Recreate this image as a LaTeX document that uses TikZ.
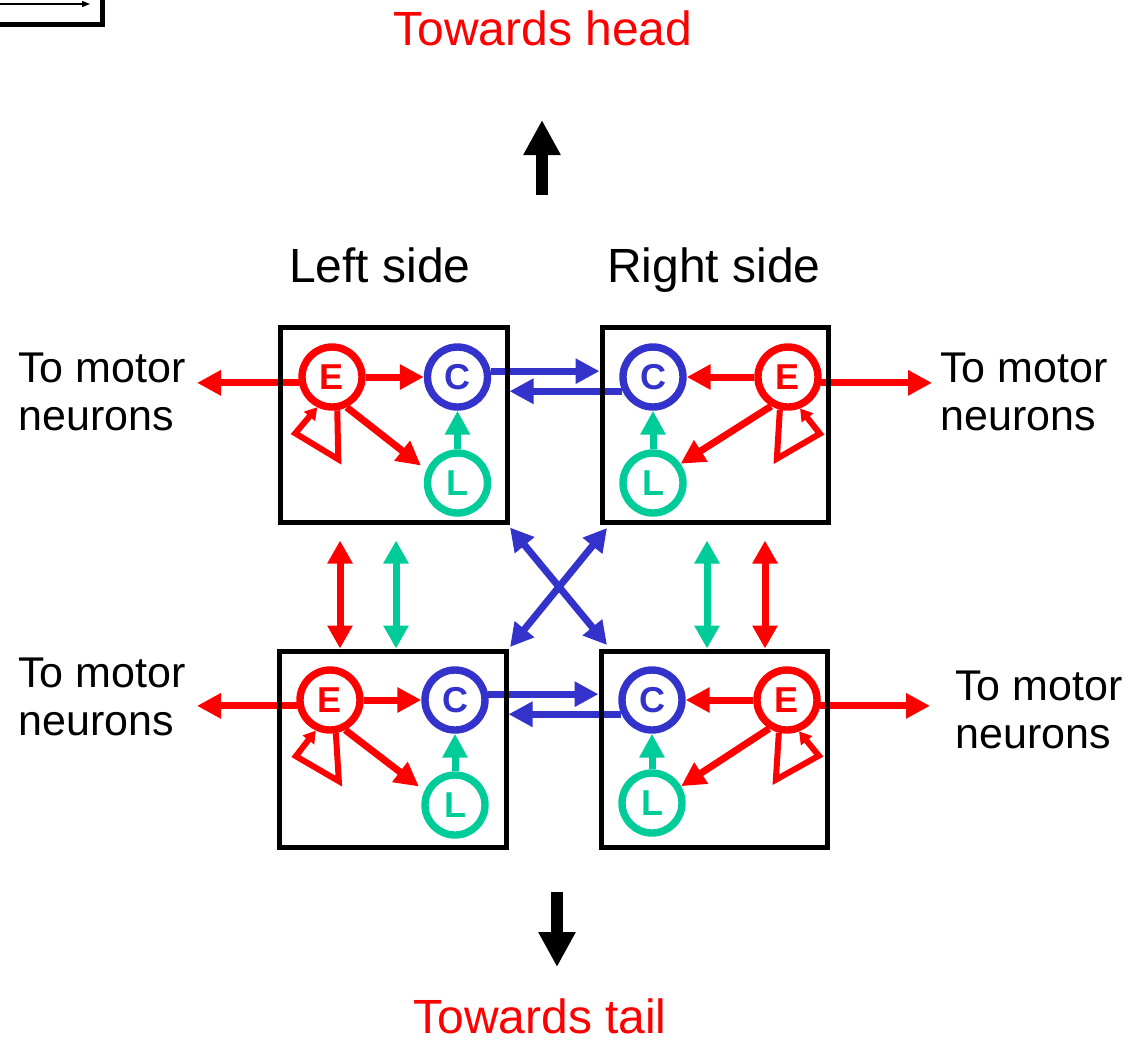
\documentclass[tikz,border=0pt]{standalone}
\usepackage{fontspec}
\setmainfont{Liberation Sans}
\usetikzlibrary{arrows.meta}
\definecolor{nred}{RGB}{255,0,0}
\definecolor{nblue}{RGB}{51,51,204}
\definecolor{ngreen}{RGB}{0,204,153}
\pgfdeclarelayer{fg}
\pgfsetlayers{main,fg}
\begin{document}
\begin{tikzpicture}[x=0.5pt,y=-0.5pt,
  cell/.style={draw=black, line width=2.5pt, minimum width=113.5pt, minimum height=97.5pt, inner sep=0pt},
  neuron/.style={circle, line width=3.7pt, minimum size=30pt, inner sep=0pt, font=\fontsize{18pt}{18pt}\selectfont\bfseries},
  eN/.style={neuron, draw=nred, text=nred},
  cN/.style={neuron, draw=nblue, text=nblue},
  lN/.style={neuron, draw=ngreen, text=ngreen},
  conn/.style={line width=3.5pt, -{Triangle[length=12pt,width=12pt]}},
  dconn/.style={line width=3.5pt, {Triangle[length=11.5pt,width=12pt]}-{Triangle[length=11.5pt,width=12pt]}},
  loopc/.style={line width=3pt, nred, -{Triangle[length=6pt,width=7pt]}},
  bigarrow/.style={line width=6pt, -{Triangle[length=17.5pt,width=17.5pt]}},
  big/.style={font=\fontsize{24pt}{28pt}\selectfont, inner sep=0pt, anchor=base},
  motor/.style={font=\fontsize{21.5pt}{24pt}\selectfont, align=left, anchor=north west, inner sep=0pt},
]
\useasboundingbox (0,0) rectangle (1131,1041);

% fragment in the top-left corner
\begin{scope}
\clip (0,0) rectangle (1131,1041);
\draw[line width=2.5pt, fill=white] (-20,-20) rectangle (102.5,24);
\coordinate (fragA) at (0,4);
\coordinate (fragB) at (90,4);
\draw[line width=0.6pt, -{Triangle[length=4pt,width=3pt]}] (fragA) -- (fragB);
\end{scope}

% boxes (on top layer)
\begin{pgfonlayer}{fg}
\node[cell] (bTL) at (393.5,424.5) {};
\node[cell, minimum width=113pt] (bTR) at (715,424.5) {};
\node[cell, minimum height=98pt] (bBL) at (392.5,749) {};
\node[cell, minimum width=113pt, minimum height=98pt] (bBR) at (714,749) {};
\end{pgfonlayer}

% neurons
\node[eN] (E1) at (332,377) {E};
\node[cN] (C1) at (457.5,377) {C};
\node[lN] (L1) at (457.5,483) {L};
\node[eN] (E2) at (788,377) {E};
\node[cN] (C2) at (653,377) {C};
\node[lN] (L2) at (653,483) {L};
\node[eN] (E3) at (330,700) {E};
\node[cN] (C3) at (455,700) {C};
\node[lN] (L3) at (455,805) {L};
\node[eN] (E4) at (787,700) {E};
\node[cN] (C4) at (652,700) {C};
\node[lN] (L4) at (652,803) {L};

% texts
\node[big, text=nred] (head) at (543,45) {Towards head};
\node[big] (lside) at (380,282) {Left side};
\node[big] (rside) at (714,282) {Right side};
\node[big, text=nred] (tail) at (540,1033) {Towards tail};
\node[motor] (mt1) at (18,353) {To motor\\neurons};
\node[motor] (mt2) at (940,353) {To motor\\neurons};
\node[motor] (mt3) at (18,657) {To motor\\neurons};
\node[motor] (mt4) at (955,671) {To motor\\neurons};

% motor arrow end points
\coordinate (mTL) at (197,383);
\coordinate (mTR) at (932,383);
\coordinate (mBL) at (197,706);
\coordinate (mBR) at (930,706);
\draw[conn, nred] (E1.190) -- (E1.190 -| mTL);
\draw[conn, nred] (E2.350) -- (E2.350 -| mTR);
\draw[conn, nred] (E3.190) -- (E3.190 -| mBL);
\draw[conn, nred] (E4.350) -- (E4.350 -| mBR);

% inside modules: E -> C, E -> L, L -> C
\draw[conn, nred] (E1) -- (C1);
\draw[conn, nred] (E2) -- (C2);
\draw[conn, nred] (E3) -- (C3);
\draw[conn, nred] (E4) -- (C4);
\draw[conn, nred, shorten >=3.5pt] (E1.296) -- (L1.157);
\draw[conn, nred] (E2.240) -- (L2.35);
\draw[conn, nred, shorten >=3.5pt] (E3.297) -- (L3.155);
\draw[conn, nred] (E4.238) -- (L4.30);
\draw[conn, ngreen] (L1) -- (C1);
\draw[conn, ngreen] (L2) -- (C2);
\draw[conn, ngreen] (L3) -- (C3);
\draw[conn, ngreen] (L4) -- (C4);

% self loops
\draw[loopc, line join=miter] (E1.279) -- ++(1,49) -- ++(-43,-26) -- (E1.244);
\draw[loopc, line join=miter] (E2.256) -- ++(-3,49) -- ++(43,-25) -- (E2.291);
\draw[loopc, line join=miter] (E3.280) -- ++(3,48) -- ++(-43,-25) -- (E3.245);
\draw[loopc, line join=miter] (E4.256) -- ++(-3,47) -- ++(43,-24) -- (E4.291);

% blue horizontal connections
\draw[conn, nblue] (C1.10) -- (C1.10 -| bTR.west);
\draw[conn, nblue] (C2.205) -- (C2.205 -| bTL.east);
\draw[conn, nblue] (C3.10) -- (C3.10 -| bBR.west);
\draw[conn, nblue] (C4.205) -- (C4.205 -| bBL.east);

% vertical connections
\coordinate (vx1) at (340,0);
\coordinate (vx2) at (396,0);
\coordinate (vx3) at (707,0);
\coordinate (vx4) at (765,0);
\draw[dconn, nred, shorten <=8pt] (bTL.south -| vx1) -- (bBL.north -| vx1);
\draw[dconn, ngreen, shorten <=8pt] (bTL.south -| vx2) -- (bBL.north -| vx2);
\draw[dconn, ngreen, shorten <=8pt] (bTR.south -| vx3) -- (bBR.north -| vx3);
\draw[dconn, nred, shorten <=8pt] (bTR.south -| vx4) -- (bBR.north -| vx4);

% crossing connections
\draw[dconn, nblue] ([shift={(0.5,3)}]bTL.south east) -- ([shift={(8.5,-3.5)}]bBR.north west);
\draw[dconn, nblue] ([shift={(7.5,3.5)}]bTR.south west) -- ([shift={(1.5,-1.5)}]bBL.north east);

% head / tail arrows
\coordinate (upA) at (542,195);
\coordinate (upB) at (542,120);
\coordinate (dnA) at (557,892);
\coordinate (dnB) at (557,967);
\draw[bigarrow] (upA) -- (upB);
\draw[bigarrow] (dnA) -- (dnB);
\end{tikzpicture}
\end{document}
